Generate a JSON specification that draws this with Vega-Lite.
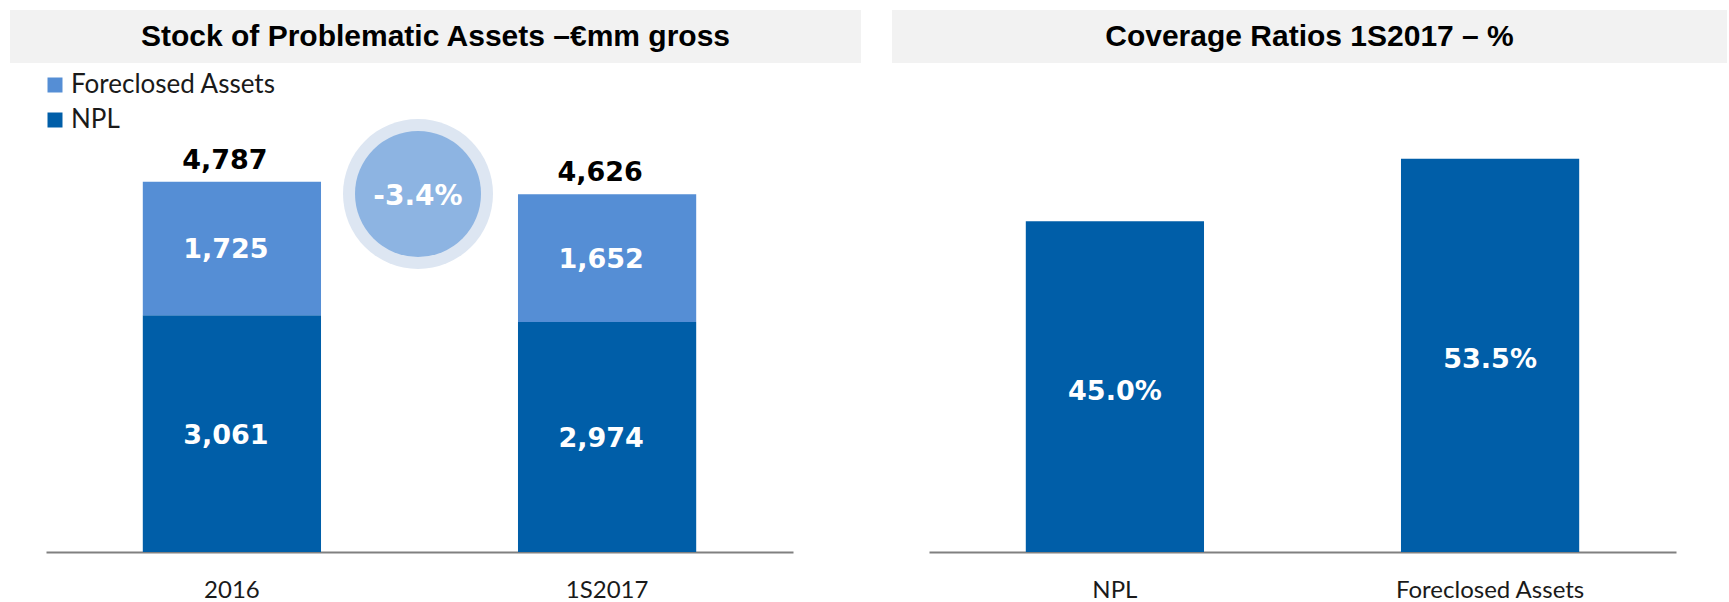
{
  "$schema": "https://vega.github.io/schema/vega-lite/v6.json",
  "background": "white",
  "padding": {"left": 10, "top": 10, "right": 0, "bottom": 0},
  "config": {"view": {"stroke": null}, "axis": {"grid": false}},
  "datasets": {
    "stock": [
      {"period": "2016", "type": "NPL", "value": 3061},
      {"period": "2016", "type": "Foreclosed Assets", "value": 1725},
      {"period": "1S2017", "type": "NPL", "value": 2974},
      {"period": "1S2017", "type": "Foreclosed Assets", "value": 1652}
    ],
    "totals": [{"period": "2016", "total": 4787}, {"period": "1S2017", "total": 4626}],
    "change": [{"position": 0.498, "level": 4628, "label": "-3.4%"}],
    "coverage": [{"asset": "NPL", "ratio": 0.45}, {"asset": "Foreclosed Assets", "ratio": 0.535}]
  },
  "spacing": 31,
  "hconcat": [
    {
      "spacing": 0,
      "vconcat": [
        {
          "width": 851,
          "height": 53,
          "view": {"fill": "#f2f2f2", "stroke": null},
          "data": {"values": [{"title": "Stock of Problematic Assets –€mm gross"}]},
          "mark": {"type": "text", "font": "Liberation Sans", "fontWeight": "bold", "fontSize": 30, "color": "#000000"},
          "encoding": {"text": {"field": "title"}}
        },
        {
          "width": 851,
          "height": 489,
          "resolve": {"scale": {"x": "independent"}},
          "layer": [
            {
              "data": {"name": "stock"},
              "layer": [
                {
                  "mark": {"type": "bar"},
                  "encoding": {
                    "x": {"field": "period", "type": "nominal", "sort": ["2016", "1S2017"], "scale": {"range": [36, 783], "paddingInner": 0.525, "paddingOuter": 0.258},
                      "axis": {"title": null, "labelAngle": 0, "labelFont": "Lato", "labelFontSize": 24, "labelColor": "#1a1a1a", "labelLimit": 400, "ticks": false, "tickSize": 0, "labelPadding": 26, "domainColor": "#808080", "domainWidth": 2}},
                    "y": {"field": "value", "type": "quantitative", "stack": "zero", "scale": {"domain": [0, 6321], "nice": false},
                      "axis": null},
                    "color": {"field": "type", "type": "nominal", "scale": {"domain": ["Foreclosed Assets", "NPL"], "range": ["#558ed5", "#005ea8"]},
                      "legend": {"orient": "none", "legendX": 32, "legendY": 62, "title": null, "symbolType": "square", "symbolSize": 225, "symbolStrokeWidth": 0, "symbolOpacity": 1, "labelFont": "Lato", "labelFontSize": 26, "labelColor": "#1a1a1a", "labelLimit": 400, "rowPadding": 9, "labelOffset": 3, "padding": 0}},
                    "order": {"field": "type", "sort": "descending"}
                  }
                },
                {
                  "transform": [
                    {"stack": "value", "groupby": ["period"], "sort": [{"field": "type", "order": "descending"}], "as": ["v0", "v1"]},
                    {"calculate": "(datum.v0 + datum.v1) / 2", "as": "mid"}
                  ],
                  "mark": {"type": "text", "font": "DejaVu Sans", "fontWeight": "bold", "fontSize": 27, "color": "#ffffff", "baseline": "middle", "dy": 2, "dx": -6},
                  "encoding": {
                    "x": {"field": "period", "type": "nominal", "sort": ["2016", "1S2017"], "title": null},
                    "y": {"field": "mid", "type": "quantitative", "axis": null},
                    "text": {"field": "value", "format": ","}
                  }
                },
                {
                  "data": {"name": "totals"},
                  "mark": {"type": "text", "font": "DejaVu Sans", "fontWeight": "bold", "fontSize": 27, "color": "#000000", "baseline": "alphabetic", "dy": -13, "dx": -7},
                  "encoding": {
                    "x": {"field": "period", "type": "nominal", "sort": ["2016", "1S2017"], "title": null},
                    "y": {"field": "total", "type": "quantitative", "axis": null},
                    "text": {"field": "total", "format": ","}
                  }
                }
              ]
            },
            {
              "data": {"name": "change"},
              "layer": [
                {
                  "mark": {"type": "point", "shape": "circle", "filled": true, "size": 22500, "color": "#dde6f2", "opacity": 1, "strokeWidth": 0},
                  "encoding": {
                    "x": {"field": "position", "type": "quantitative", "scale": {"domain": [0, 1], "range": [36, 783]}, "axis": null},
                    "y": {"field": "level", "type": "quantitative", "axis": null}
                  }
                },
                {
                  "mark": {"type": "point", "shape": "circle", "filled": true, "size": 15876, "color": "#8db4e2", "opacity": 1, "strokeWidth": 0},
                  "encoding": {
                    "x": {"field": "position", "type": "quantitative", "scale": {"domain": [0, 1], "range": [36, 783]}, "axis": null},
                    "y": {"field": "level", "type": "quantitative", "axis": null}
                  }
                },
                {
                  "mark": {"type": "text", "font": "DejaVu Sans", "fontWeight": "bold", "fontSize": 28, "color": "#ffffff", "baseline": "middle", "dy": 3},
                  "encoding": {
                    "x": {"field": "position", "type": "quantitative", "scale": {"domain": [0, 1], "range": [36, 783]}, "axis": null},
                    "y": {"field": "level", "type": "quantitative", "axis": null},
                    "text": {"field": "label"}
                  }
                }
              ]
            }
          ]
        }
      ]
    },
    {
      "spacing": 0,
      "vconcat": [
        {
          "width": 835,
          "height": 53,
          "view": {"fill": "#f2f2f2", "stroke": null},
          "data": {"values": [{"title": "Coverage Ratios 1S2017 – %"}]},
          "mark": {"type": "text", "font": "Liberation Sans", "fontWeight": "bold", "fontSize": 30, "color": "#000000"},
          "encoding": {"text": {"field": "title"}}
        },
        {
          "width": 835,
          "height": 489,
          "data": {"name": "coverage"},
          "layer": [
            {
              "mark": {"type": "bar", "color": "#005ea8"},
              "encoding": {
                "x": {"field": "asset", "type": "nominal", "sort": ["NPL", "Foreclosed Assets"], "scale": {"range": [37, 784], "paddingInner": 0.525, "paddingOuter": 0.258},
                  "axis": {"title": null, "labelAngle": 0, "labelFont": "Lato", "labelFontSize": 24, "labelColor": "#1a1a1a", "labelLimit": 400, "ticks": false, "tickSize": 0, "labelPadding": 26, "domainColor": "#808080", "domainWidth": 2}},
                "y": {"field": "ratio", "type": "quantitative", "scale": {"domain": [0, 0.6653], "nice": false}, "axis": null}
              }
            },
            {
              "transform": [{"calculate": "datum.ratio / 2", "as": "mid"}],
              "mark": {"type": "text", "font": "DejaVu Sans", "fontWeight": "bold", "fontSize": 27, "color": "#ffffff", "baseline": "middle", "dy": 5},
              "encoding": {
                "x": {"field": "asset", "type": "nominal", "sort": ["NPL", "Foreclosed Assets"], "title": null},
                "y": {"field": "mid", "type": "quantitative", "axis": null},
                "text": {"field": "ratio", "format": ".1%"}
              }
            }
          ]
        }
      ]
    }
  ]
}
